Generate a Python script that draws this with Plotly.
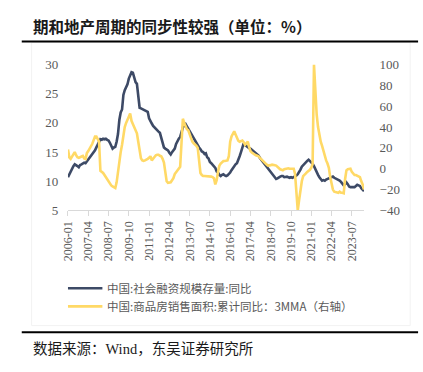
import plotly.graph_objects as go
import pandas as pd

# ---- data ----
months = [d.strftime("%Y-%m") for d in pd.date_range("2006-01-01", "2024-04-01", freq="MS")]

tsf_yoy = [
    10.7, 11.2, 11.8, 12.2, 12.6, 12.9, 12.8, 12.6, 12.4, 12.8,
    12.9, 13.1, 13.2, 13.1, 13.4, 13.6, 13.9, 14.2, 14.5, 14.9,
    15.3, 15.8, 16.2, 16.8, 17.2, 17.1, 17.3, 17.2, 17.3, 17.1,
    17.0, 16.6, 16.1, 15.6, 15.8, 15.9, 16.8, 18.1, 20.5, 21.8,
    22.3, 24.8, 25.6, 26.0, 26.6, 27.6, 28.3, 28.7, 28.6, 27.8,
    27.0, 26.7, 24.5, 22.6, 22.5, 22.4, 22.3, 22.2, 22.1, 21.9,
    20.8, 20.2, 19.9, 19.5, 19.2, 19.0, 18.8, 18.5, 18.3, 17.5,
    16.6, 15.8, 15.6, 15.5, 15.3, 14.9, 14.6, 15.0, 15.4, 15.6,
    16.4, 17.0, 17.3, 17.6, 18.5, 19.2, 19.6, 19.8, 19.4, 19.0,
    18.6, 18.1, 17.6, 17.2, 16.8, 16.4, 16.1, 15.8, 15.5, 15.1,
    15.0, 14.7, 14.8, 14.1, 13.9, 13.3, 13.1, 12.8, 12.6, 12.3,
    11.7, 11.5, 11.1, 10.9, 11.1, 11.2, 11.0, 10.9, 11.0, 11.2,
    11.5, 11.9, 12.3, 12.6, 12.9, 13.1, 13.6, 14.3, 15.0, 15.9,
    16.5, 16.2, 16.0, 15.9, 15.7, 15.6, 15.4, 15.2, 15.1, 14.8,
    14.6, 14.4, 14.0, 13.7, 13.5, 13.2, 12.9, 12.6, 12.3, 12.0,
    11.6, 11.3, 11.1, 10.7, 10.4, 10.5, 10.7, 10.8, 10.9, 10.9,
    10.7, 10.8, 10.8, 10.7, 10.6, 10.7, 10.6, 10.7, 10.8, 11.0,
    11.2, 11.5, 12.0, 12.5, 12.8, 13.1, 13.3, 13.5, 13.7, 13.5,
    13.3, 13.0, 12.6, 12.0, 11.6, 11.1, 10.7, 10.3, 10.1, 10.2,
    10.1, 10.3, 10.4, 10.4, 10.5, 10.6, 10.8, 10.6, 10.5, 10.4,
    10.3, 10.1, 9.9, 9.6, 9.3, 9.5, 9.8, 9.5, 9.1, 9.0,
    9.0, 8.9, 9.0, 9.2, 9.4, 9.3, 9.2, 8.8, 8.6, 8.3,
]

sales_area_yoy_3mma = [
    18.5, 11.0, 9.5, 12.0, 14.0, 16.0, 13.0, 11.0, 10.5, 11.5,
    11.8, 12.3, 10.0, 9.5, 15.0, 17.0, 19.0, 21.0, 24.0, 27.5,
    31.0, 31.0, 29.0, 26.0, -2.0, -3.0, -4.0, -6.0, -8.0, -11.0,
    -13.0, -15.0, -16.0, -17.0, -18.0, -18.5, -13.0, -2.0, 8.0, 16.0,
    23.0, 32.0, 40.0, 44.0, 48.0, 50.0, 53.0, 46.0, 43.0, 40.0,
    37.0, 34.0, 26.0, 16.0, 10.0, 8.0, 7.5, 8.0, 8.5, 9.5,
    10.5, 12.0, 8.0, 10.0, 12.0, 13.0, 13.5, 13.5, 12.5, 12.0,
    9.5, 6.0, -3.0, -12.0, -13.5, -13.0, -13.0, -11.0, -9.0, -5.0,
    -3.0, -1.0, 1.0, 2.0, 25.0, 48.0, 44.0, 40.0, 38.0, 37.0,
    33.0, 28.0, 26.0, 24.5, 23.5, 22.0, 20.0, 5.0, -4.0, -6.0,
    -7.0, -7.0, -7.0, -7.0, -7.5, -7.5, -7.5, -8.0, -9.0, -15.0,
    -11.0, -3.0, 3.0, 5.0, 6.0, 7.5, 7.5, 7.5, 8.0, 12.0,
    26.0, 31.0, 34.0, 36.0, 33.0, 30.0, 27.0, 26.0, 26.5, 27.0,
    25.5, 23.0, 24.5, 26.0, 21.0, 17.0, 15.5, 14.5, 13.8, 13.0,
    12.5, 12.0, 10.5, 9.0, 7.5, 6.0, 4.5, 4.0, 3.0, 3.0,
    3.5, 4.0, 4.0, 3.5, 3.0, 1.5, 0.0, -0.5, -1.0, -1.5,
    -0.5, 0.0, 0.0, 0.5, 0.0, 0.0, 0.5, 0.0, -5.0, -20.0,
    -40.0, -30.0, -20.0, -12.0, -7.0, -6.0, -4.5, -3.0, -2.0, -1.0,
    1.0, 4.5, 100.0, 70.0, 52.0, 40.0, 31.0, 26.0, 22.0, 17.0,
    12.0, 8.0, 5.0, 1.0, -8.0, -16.0, -20.0, -22.0, -22.5, -22.5,
    -23.0, -22.0, -23.0, -23.0, -23.5, -10.0, -1.5, -0.5, 0.0, 0.0,
    -3.0, -5.0, -6.0, -6.0, -6.5, -7.0, -8.0, -12.0, -15.0, -20.0,
]

tick_months = months[::15]

name1 = "中国:社会融资规模存量:同比"
name2 = "中国:商品房销售面积:累计同比：3MMA（右轴）"
title_text = "期和地产周期的同步性较强（单位：%）"
source_text = "数据来源：Wind，东吴证券研究所"

c_dark = "#3D4A66"
c_gold = "#FFD966"
grey = "#595959"
serif = "Liberation Serif, Noto Sans CJK SC, serif"
cjk = "Noto Sans CJK SC, sans-serif"

W, H = 423, 372
def px(x):
    return x / W
def py(y):
    return 1 - y / H

fig = go.Figure()
fig.add_trace(go.Scatter(x=months, y=tsf_yoy, mode="lines", name=name1,
                         line=dict(color=c_dark, width=2.6), yaxis="y"))
fig.add_trace(go.Scatter(x=months, y=sales_area_yoy_3mma, mode="lines", name=name2,
                         line=dict(color=c_gold, width=2.6), yaxis="y2"))

fig.update_layout(
    width=W, height=H,
    margin=dict(l=0, r=0, t=0, b=0),
    paper_bgcolor="white", plot_bgcolor="rgba(0,0,0,0)",
    showlegend=False,
    xaxis=dict(
        type="category", domain=[px(62), px(363)],
        range=[0, len(months) - 1],
        tickvals=tick_months, ticktext=tick_months,
        tickangle=-90, tickfont=dict(family=serif, size=12, color=grey),
        showline=True, linecolor="#D9D9D9", linewidth=1,
        ticks="outside", ticklen=5, tickcolor="#D9D9D9",
        showgrid=False, zeroline=False, anchor="y",
    ),
    yaxis=dict(
        domain=[py(212), py(60)], range=[5, 30], dtick=5,
        tickfont=dict(family=serif, size=13, color=grey),
        showgrid=False, zeroline=False, showline=False,
        ticks="outside", ticklen=6, tickcolor="rgba(0,0,0,0)",
    ),
    yaxis2=dict(
        overlaying="y", side="right", anchor="x", range=[-40, 100], dtick=20,
        tickfont=dict(family=serif, size=13, color=grey),
        showgrid=False, zeroline=False, showline=False,
        ticks="outside", ticklen=12, tickcolor="rgba(0,0,0,0)",
    ),
)

shapes = [
    # chart frame (faint)
    dict(type="rect", xref="paper", yref="paper", x0=px(25), x1=px(410), y0=py(332), y1=py(37),
         line=dict(color="#F2F2F2", width=1), fillcolor="rgba(0,0,0,0)", layer="below"),
    # title rule
    dict(type="line", xref="paper", yref="paper", x0=px(15), x1=px(418), y0=py(36), y1=py(36),
         line=dict(color="black", width=2)),
    # source rule
    dict(type="line", xref="paper", yref="paper", x0=px(15), x1=px(418), y0=py(339), y1=py(339),
         line=dict(color="black", width=2)),
    # legend lines
    dict(type="line", xref="paper", yref="paper", x0=px(62), x1=px(97), y0=py(293), y1=py(293),
         line=dict(color=c_dark, width=2.6)),
    dict(type="line", xref="paper", yref="paper", x0=px(62), x1=px(97), y0=py(312), y1=py(312),
         line=dict(color=c_gold, width=2.6)),
]
fig.update_layout(shapes=shapes)

annotations = [
    dict(text="<b>" + title_text + "</b>", x=px(24), y=py(20), xref="paper", yref="paper",
         xanchor="left", yanchor="middle", showarrow=False,
         font=dict(family=cjk, size=15.5, color="#1a1a1a")),
    dict(text=name1, x=px(100), y=py(293), xref="paper", yref="paper",
         xanchor="left", yanchor="middle", showarrow=False,
         font=dict(family=cjk, size=11.5, color=grey)),
    dict(text=name2, x=px(100), y=py(312), xref="paper", yref="paper",
         xanchor="left", yanchor="middle", showarrow=False,
         font=dict(family=cjk, size=11.5, color=grey)),
    dict(text=source_text, x=px(24), y=py(356), xref="paper", yref="paper",
         xanchor="left", yanchor="middle", showarrow=False,
         font=dict(family=serif, size=14.5, color="#1a1a1a")),
]
fig.update_layout(annotations=annotations)

fig.write_html("out.html", config={"displayModeBar": False},
               post_script="document.body.style.margin='0px';document.body.style.overflow='hidden';")
